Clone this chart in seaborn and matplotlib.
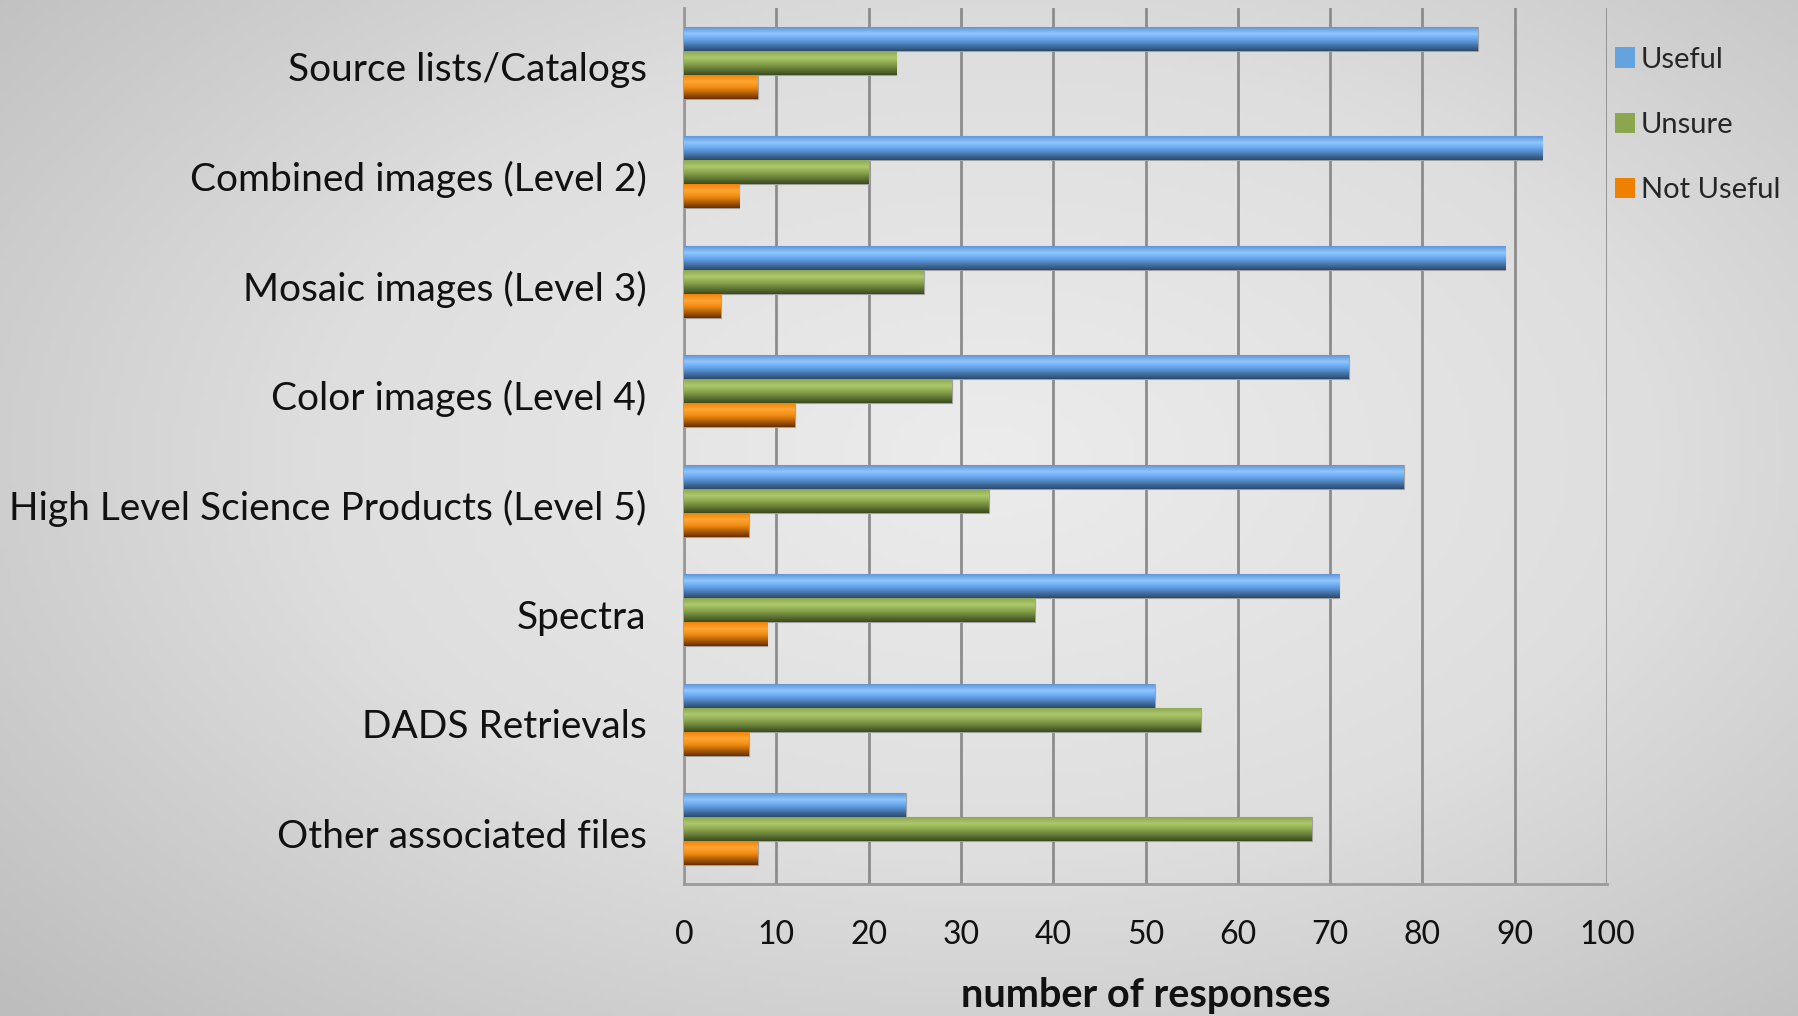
import numpy as np
import pandas as pd
import matplotlib.pyplot as plt
import matplotlib.colors as mcolors
import matplotlib.transforms as mtransforms
from matplotlib.patches import Patch
import seaborn as sns

# Survey answers per data product
categories = [
    "Source lists/Catalogs",
    "Combined images (Level 2)",
    "Mosaic images (Level 3)",
    "Color images (Level 4)",
    "High Level Science Products (Level 5)",
    "Spectra",
    "DADS Retrievals",
    "Other associated files",
]
useful = [86, 93, 89, 72, 78, 71, 51, 24]
unsure = [23, 20, 26, 29, 33, 38, 56, 68]
not_useful = [8, 6, 4, 12, 7, 9, 7, 8]
responses = ["Useful", "Unsure", "Not Useful"]
x_ticks = list(range(0, 101, 10))

palette = {"Useful": "#64a2e0", "Unsure": "#8aa64e", "Not Useful": "#f08000"}
# top edge, highlight, middle, bottom shade for the glossy bar look
bar_shades = {
    "Useful": ["#5a90d2", "#8fc6ff", "#62a2ea", "#2b4a6e"],
    "Unsure": ["#8aa44f", "#acc86c", "#89a34c", "#3a4c1e"],
    "Not Useful": ["#f07e00", "#ffa634", "#f08a10", "#6a3000"],
}

df = pd.DataFrame({
    "category": categories * 3,
    "response": [r for r in responses for _ in categories],
    "value": useful + unsure + not_useful,
})

sns.set_theme(style="white")
plt.rcParams["font.family"] = ["Lato", "DejaVu Sans"]

W, H = 1798, 1016
fig = plt.figure(figsize=(W / 100, H / 100), dpi=100)

# --- soft grey background with a brighter centre ---
bg = fig.add_axes([0, 0, 1, 1], zorder=-10)
yy, xx = np.mgrid[0:1:200j, 0:1:360j]
dist = np.sqrt(((xx - 0.55) / 0.75) ** 2 + ((yy - 0.45) / 0.8) ** 2)
bg_cmap = mcolors.LinearSegmentedColormap.from_list("bg", ["#ececec", "#dedede", "#bdbdbd"])
bg.imshow(dist, cmap=bg_cmap, vmin=0, vmax=1.0, aspect="auto", extent=[0, 1, 0, 1])
bg.axis("off")

left, right = 684 / W, 1607 / W
bottom, top = 1 - 884 / H, 1 - 8 / H
ax = fig.add_axes([left, bottom, right - left, top - bottom])
ax.set_facecolor("none")

sns.barplot(data=df, y="category", x="value", hue="response", order=categories,
            hue_order=responses, palette=palette, orient="h", width=0.66,
            dodge=True, legend=False, ax=ax, edgecolor="#a0a0a0", linewidth=0.8,
            zorder=3)

# glossy gradient inside each bar
for cont, resp in zip(ax.containers, responses):
    cmap = mcolors.LinearSegmentedColormap.from_list(
        resp, list(zip([0.0, 0.3, 0.55, 1.0], bar_shades[resp])))
    grad = np.linspace(0, 1, 64).reshape(-1, 1)
    for patch in cont.patches:
        x0, y0 = patch.get_x(), patch.get_y()
        w, h = patch.get_width(), patch.get_height()
        im = ax.imshow(grad, cmap=cmap, aspect="auto", zorder=4,
                       extent=[x0, x0 + w, y0 + h, y0], origin="upper")
        im.set_clip_path(patch)

ax.set_xlim(0, 100)
ax.set_ylim(len(categories) - 0.5, -0.5)
ax.set_xticks(x_ticks)
ax.set_xticklabels([str(t) for t in x_ticks])
ax.xaxis.grid(True, color="#8c8c8c", linewidth=2, zorder=0)
ax.set_axisbelow(True)
ax.tick_params(axis="x", length=0, pad=26, labelsize=23, colors="#111111")
ax.tick_params(axis="y", length=0, pad=27, labelsize=28, colors="#111111")
ax.set_ylabel("")
ax.set_xlabel("number of responses", fontsize=28.5, fontweight="bold",
              color="#111111", labelpad=19)

# category labels sit a touch lower than the group centre in the original
shift = mtransforms.ScaledTranslation(0, -4 / 100, fig.dpi_scale_trans)
for lbl in ax.get_yticklabels():
    lbl.set_transform(lbl.get_transform() + shift)

for side in ["top", "right"]:
    ax.spines[side].set_visible(False)
for side in ["left", "bottom"]:
    ax.spines[side].set_color("#9a9a9a")
    ax.spines[side].set_linewidth(2)

handles = [Patch(facecolor=palette[r], edgecolor="none") for r in responses]
fig.legend(handles, responses, loc="upper left", bbox_to_anchor=(1603 / W, 1 - 35 / H),
           frameon=False, fontsize=21, handlelength=0.7, handleheight=0.7,
           handletextpad=0.2, labelspacing=1.35, borderaxespad=0)

fig.savefig("out.png", dpi=100)
